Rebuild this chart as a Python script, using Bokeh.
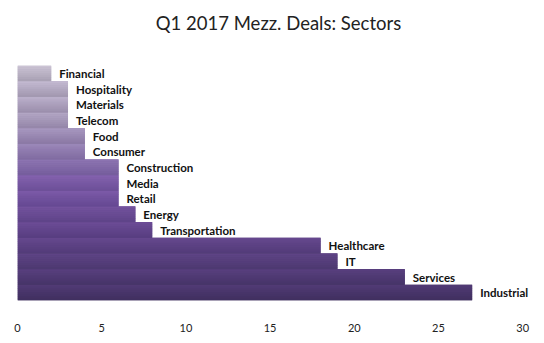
from bokeh.plotting import figure
from bokeh.models import ColumnDataSource, FactorRange, Range1d, FixedTicker, Title, LabelSet
from bokeh.transform import dodge
from bokeh.core.properties import value
from bokeh.embed import file_html
from bokeh.resources import INLINE

# Data (top of chart first)
sectors = ["Financial", "Hospitality", "Materials", "Telecom", "Food", "Consumer",
           "Construction", "Media", "Retail", "Energy", "Transportation",
           "Healthcare", "IT", "Services", "Industrial"]
deals = [2, 3, 3, 3, 4, 4, 6, 6, 6, 7, 8, 18, 19, 23, 27]
x_ticks = [0, 5, 10, 15, 20, 25, 30]

# Style: top / bottom colours of each bar's vertical gradient
top_colors = ["#cdc5d6", "#c4bad2", "#bcb1cc", "#b4a8c6", "#a898c0", "#9c89ba",
              "#8e76b2", "#8462ae", "#7c5aa8", "#74539e", "#6c4c96",
              "#66488e", "#5f4486", "#583f7e", "#523b76"]
bot_colors = ["#a8a0b3", "#a197af", "#9a8dab", "#9485a8", "#8a78a4", "#7f6aa0",
              "#745c9c", "#6c4f98", "#654892", "#5e4388", "#573d80",
              "#523b78", "#4c3870", "#463468", "#3f2f5e"]


def mix(c1, c2, t):
    a = [int(c1[i:i + 2], 16) for i in (1, 3, 5)]
    b = [int(c2[i:i + 2], 16) for i in (1, 3, 5)]
    return "#%02x%02x%02x" % tuple(int(round(a[k] + (b[k] - a[k]) * t)) for k in range(3))


p = figure(width=544, height=343, output_backend="svg", toolbar_location=None,
           y_range=FactorRange(factors=list(reversed(sectors)), range_padding=0),
           x_range=Range1d(0, 31),
           min_border_left=17, min_border_right=5, min_border_top=0, min_border_bottom=43)

# top spacer (outermost)
p.title = Title(text=" ", text_font_size="1px", standoff=6)
# spacer between title and bars (nearest the frame)
p.add_layout(Title(text=" ", text_font_size="1px", standoff=29), "above")
# main title
p.add_layout(Title(text="Q1 2017 Mezz. Deals: Sectors", align="center",
                   text_font="Lato", text_font_size="18.5px", text_font_style="normal",
                   text_color="#222222", standoff=0), "above")

# shadow under the bars
shadow = ColumnDataSource(dict(y=sectors, x=deals))
p.hbar(y=dodge("y", -0.12, range=p.y_range), right="x", left=0, height=1.0,
       source=shadow, fill_color="#d8d8d8", line_color=None, fill_alpha=0.6)

# base bars
base = ColumnDataSource(dict(y=sectors, x=deals,
                             c=[mix(a, b, 0.5) for a, b in zip(top_colors, bot_colors)]))
p.hbar(y="y", right="x", left=0, height=1.0, source=base, fill_color="c", line_color=None)

n = 8
for k in range(n):
    t = (k + 0.5) / n
    cols = [mix(a, b, t) for a, b in zip(top_colors, bot_colors)]
    src = ColumnDataSource(dict(y=sectors, x=deals, c=cols))
    off = 0.5 - (k + 0.5) / n
    p.hbar(y=dodge("y", off, range=p.y_range), right="x", left=0, height=1.0 / n + 0.02,
           source=src, fill_color="c", line_color=None)

lab = ColumnDataSource(dict(y=sectors, x=deals))
labels = LabelSet(x="x", y="y", text="y", source=lab, x_offset=8, y_offset=0,
                  text_baseline="middle", text_font=value("Lato"),
                  text_font_size="11.5px", text_font_style="bold", text_color="#111111")
p.add_layout(labels)

p.yaxis.visible = False
p.xaxis.ticker = FixedTicker(ticks=x_ticks)
p.xaxis.axis_line_color = None
p.xaxis.major_tick_line_color = None
p.xaxis.minor_tick_line_color = None
p.xaxis.major_label_standoff = 17
p.xaxis.major_label_text_font = "Lato"
p.xaxis.major_label_text_font_size = "11px"
p.xaxis.major_label_text_color = "#222222"
p.xgrid.visible = False
p.ygrid.visible = False
p.outline_line_color = None

open("out.html", "w").write(file_html(p, INLINE))
